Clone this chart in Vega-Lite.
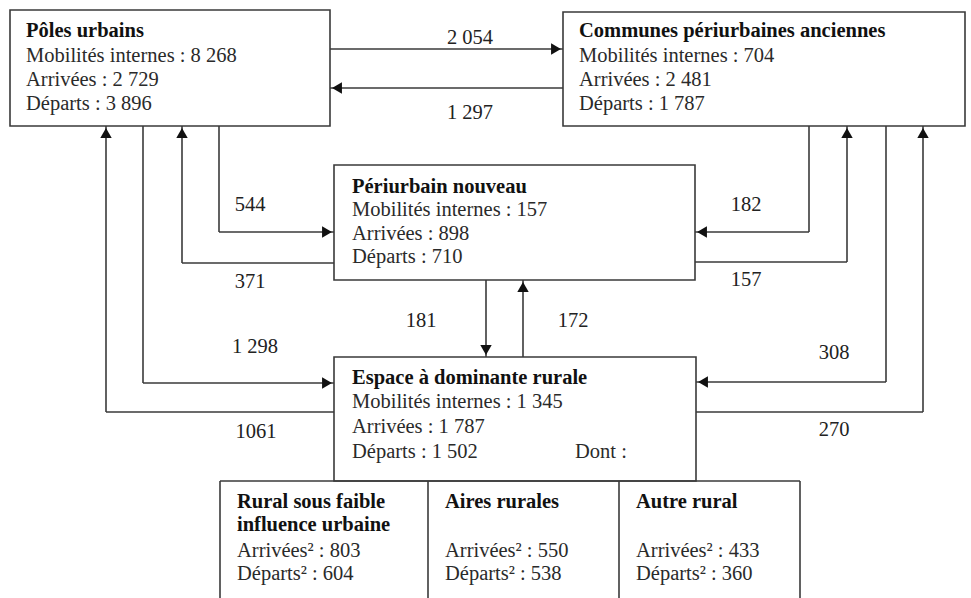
{
  "$schema": "https://vega.github.io/schema/vega-lite/v6.json",
  "width": 971,
  "height": 598,
  "padding": 0,
  "autosize": {"type": "none"},
  "background": "white",
  "config": {"view": {"stroke": null}},
  "datasets": {
    "boxes": [
      {"name": "Pôles urbains", "x": 10, "x2": 330, "y": 10, "y2": 126},
      {"name": "Communes périurbaines anciennes", "x": 563, "x2": 965, "y": 12, "y2": 126},
      {"name": "Périurbain nouveau", "x": 334, "x2": 695, "y": 165, "y2": 280},
      {"name": "Espace à dominante rurale", "x": 334, "x2": 696, "y": 357, "y2": 481}
    ],
    "segments": [
      {"flow": "sub", "x": 220, "y": 481, "x2": 800, "y2": 481},
      {"flow": "sub", "x": 220, "y": 481, "x2": 220, "y2": 600},
      {"flow": "sub", "x": 428, "y": 481, "x2": 428, "y2": 600},
      {"flow": "sub", "x": 619, "y": 481, "x2": 619, "y2": 600},
      {"flow": "sub", "x": 800, "y": 481, "x2": 800, "y2": 600},
      {"flow": "2 054", "x": 330, "y": 49, "x2": 563, "y2": 49},
      {"flow": "1 297", "x": 330, "y": 88, "x2": 563, "y2": 88},
      {"flow": "544", "x": 219, "y": 126, "x2": 219, "y2": 232},
      {"flow": "544", "x": 219, "y": 232, "x2": 334, "y2": 232},
      {"flow": "371", "x": 334, "y": 263, "x2": 182, "y2": 263},
      {"flow": "371", "x": 182, "y": 263, "x2": 182, "y2": 126},
      {"flow": "1 298", "x": 143, "y": 126, "x2": 143, "y2": 383},
      {"flow": "1 298", "x": 143, "y": 383, "x2": 334, "y2": 383},
      {"flow": "1061", "x": 334, "y": 412, "x2": 106, "y2": 412},
      {"flow": "1061", "x": 106, "y": 412, "x2": 106, "y2": 126},
      {"flow": "182", "x": 809, "y": 126, "x2": 809, "y2": 232},
      {"flow": "182", "x": 809, "y": 232, "x2": 695, "y2": 232},
      {"flow": "157", "x": 695, "y": 262, "x2": 847, "y2": 262},
      {"flow": "157", "x": 847, "y": 262, "x2": 847, "y2": 126},
      {"flow": "308", "x": 886, "y": 126, "x2": 886, "y2": 382},
      {"flow": "308", "x": 886, "y": 382, "x2": 696, "y2": 382},
      {"flow": "270", "x": 696, "y": 412, "x2": 923, "y2": 412},
      {"flow": "270", "x": 923, "y": 412, "x2": 923, "y2": 126},
      {"flow": "181", "x": 486, "y": 280, "x2": 486, "y2": 357},
      {"flow": "172", "x": 523, "y": 357, "x2": 523, "y2": 280}
    ],
    "heads": [
      {"flow": "2 054", "x": 556, "y": 49, "shape": "triangle-right"},
      {"flow": "1 297", "x": 337, "y": 88, "shape": "triangle-left"},
      {"flow": "544", "x": 327, "y": 232, "shape": "triangle-right"},
      {"flow": "371", "x": 182, "y": 133, "shape": "triangle-up"},
      {"flow": "1 298", "x": 327, "y": 383, "shape": "triangle-right"},
      {"flow": "1061", "x": 106, "y": 133, "shape": "triangle-up"},
      {"flow": "182", "x": 702, "y": 232, "shape": "triangle-left"},
      {"flow": "157", "x": 847, "y": 133, "shape": "triangle-up"},
      {"flow": "308", "x": 703, "y": 382, "shape": "triangle-left"},
      {"flow": "270", "x": 923, "y": 133, "shape": "triangle-up"},
      {"flow": "181", "x": 486, "y": 350, "shape": "triangle-down"},
      {"flow": "172", "x": 523, "y": 287, "shape": "triangle-up"}
    ],
    "labels": [
      {"text": "2 054", "x": 470, "y": 38},
      {"text": "1 297", "x": 470, "y": 113},
      {"text": "544", "x": 250, "y": 205},
      {"text": "371", "x": 250, "y": 282},
      {"text": "1 298", "x": 255, "y": 347},
      {"text": "1061", "x": 256, "y": 432},
      {"text": "182", "x": 746, "y": 205},
      {"text": "157", "x": 746, "y": 280},
      {"text": "308", "x": 834, "y": 353},
      {"text": "270", "x": 834, "y": 430},
      {"text": "181", "x": 421, "y": 321},
      {"text": "172", "x": 573, "y": 321}
    ],
    "texts": [
      {"text": "Pôles urbains", "x": 26, "y": 37, "bold": true},
      {"text": "Mobilités internes : 8 268", "x": 26, "y": 62, "bold": false},
      {"text": "Arrivées : 2 729", "x": 26, "y": 86, "bold": false},
      {"text": "Départs : 3 896", "x": 26, "y": 110, "bold": false},
      {"text": "Communes périurbaines anciennes", "x": 579, "y": 37, "bold": true},
      {"text": "Mobilités internes : 704", "x": 579, "y": 62, "bold": false},
      {"text": "Arrivées : 2 481", "x": 579, "y": 86, "bold": false},
      {"text": "Départs : 1 787", "x": 579, "y": 110, "bold": false},
      {"text": "Périurbain nouveau", "x": 352, "y": 193, "bold": true},
      {"text": "Mobilités internes : 157", "x": 352, "y": 216, "bold": false},
      {"text": "Arrivées : 898", "x": 352, "y": 240, "bold": false},
      {"text": "Départs : 710", "x": 352, "y": 263, "bold": false},
      {"text": "Espace à dominante rurale", "x": 352, "y": 384, "bold": true},
      {"text": "Mobilités internes : 1 345", "x": 352, "y": 408, "bold": false},
      {"text": "Arrivées : 1 787", "x": 352, "y": 433, "bold": false},
      {"text": "Départs : 1 502", "x": 352, "y": 458, "bold": false},
      {"text": "Dont :", "x": 575, "y": 458, "bold": false},
      {"text": "Rural sous faible", "x": 237, "y": 508, "bold": true},
      {"text": "influence urbaine", "x": 237, "y": 531, "bold": true},
      {"text": "Arrivées² : 803", "x": 237, "y": 557, "bold": false},
      {"text": "Départs² : 604", "x": 237, "y": 580, "bold": false},
      {"text": "Aires rurales", "x": 445, "y": 508, "bold": true},
      {"text": "Arrivées² : 550", "x": 445, "y": 557, "bold": false},
      {"text": "Départs² : 538", "x": 445, "y": 580, "bold": false},
      {"text": "Autre rural", "x": 636, "y": 508, "bold": true},
      {"text": "Arrivées² : 433", "x": 636, "y": 557, "bold": false},
      {"text": "Départs² : 360", "x": 636, "y": 580, "bold": false}
    ]
  },
  "layer": [
    {
      "data": {"name": "segments"},
      "mark": {"type": "rule", "color": "#3a3a3a", "strokeWidth": 1.6, "clip": true},
      "encoding": {
        "x": {"field": "x", "type": "quantitative", "scale": {"domain": [0, 971], "nice": false, "zero": false}, "axis": null},
        "y": {"field": "y", "type": "quantitative", "scale": {"domain": [0, 598], "nice": false, "zero": false, "reverse": true}, "axis": null},
        "x2": {"field": "x2"},
        "y2": {"field": "y2"}
      }
    },
    {
      "data": {"name": "boxes"},
      "mark": {"type": "rect", "fill": null, "fillOpacity": 0, "stroke": "#3a3a3a", "strokeWidth": 1.6},
      "encoding": {
        "x": {"field": "x", "type": "quantitative", "scale": {"domain": [0, 971], "nice": false, "zero": false}, "axis": null},
        "y": {"field": "y", "type": "quantitative", "scale": {"domain": [0, 598], "nice": false, "zero": false, "reverse": true}, "axis": null},
        "x2": {"field": "x2"},
        "y2": {"field": "y2"}
      }
    },
    {
      "data": {"name": "heads"},
      "mark": {"type": "point", "filled": true, "color": "#111111", "opacity": 1, "size": 130},
      "encoding": {
        "x": {"field": "x", "type": "quantitative", "scale": {"domain": [0, 971], "nice": false, "zero": false}, "axis": null},
        "y": {"field": "y", "type": "quantitative", "scale": {"domain": [0, 598], "nice": false, "zero": false, "reverse": true}, "axis": null},
        "shape": {"field": "shape", "type": "nominal", "scale": null, "legend": null}
      }
    },
    {
      "data": {"name": "labels"},
      "mark": {"type": "text", "font": "Liberation Serif", "fontSize": 20.5, "align": "center", "baseline": "middle", "color": "#222222"},
      "encoding": {
        "x": {"field": "x", "type": "quantitative", "scale": {"domain": [0, 971], "nice": false, "zero": false}, "axis": null},
        "y": {"field": "y", "type": "quantitative", "scale": {"domain": [0, 598], "nice": false, "zero": false, "reverse": true}, "axis": null},
        "text": {"field": "text"}
      }
    },
    {
      "data": {"name": "texts"},
      "transform": [{"filter": "datum.bold"}],
      "mark": {"type": "text", "font": "Liberation Serif", "fontSize": 20.5, "fontWeight": "bold", "align": "left", "baseline": "alphabetic", "color": "#111111"},
      "encoding": {
        "x": {"field": "x", "type": "quantitative", "scale": {"domain": [0, 971], "nice": false, "zero": false}, "axis": null},
        "y": {"field": "y", "type": "quantitative", "scale": {"domain": [0, 598], "nice": false, "zero": false, "reverse": true}, "axis": null},
        "text": {"field": "text"}
      }
    },
    {
      "data": {"name": "texts"},
      "transform": [{"filter": "!datum.bold"}],
      "mark": {"type": "text", "font": "Liberation Serif", "fontSize": 20.5, "align": "left", "baseline": "alphabetic", "color": "#2a2a2a"},
      "encoding": {
        "x": {"field": "x", "type": "quantitative", "scale": {"domain": [0, 971], "nice": false, "zero": false}, "axis": null},
        "y": {"field": "y", "type": "quantitative", "scale": {"domain": [0, 598], "nice": false, "zero": false, "reverse": true}, "axis": null},
        "text": {"field": "text"}
      }
    }
  ]
}
